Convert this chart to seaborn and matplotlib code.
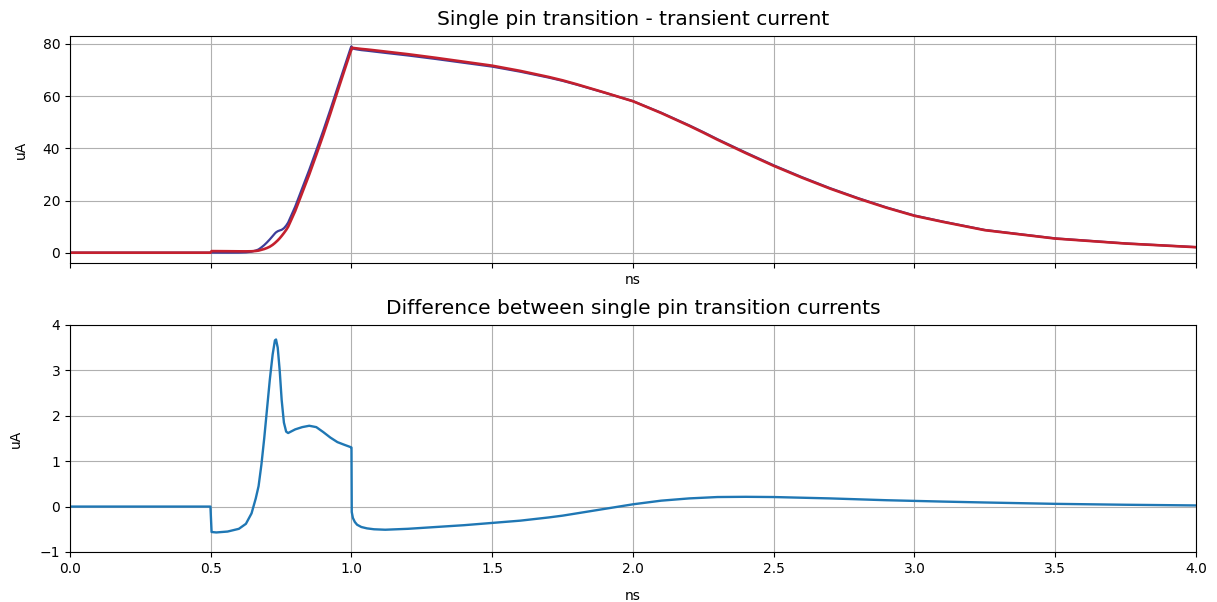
import numpy as np
import matplotlib
matplotlib.use("Agg")
import matplotlib.pyplot as plt
import seaborn as sns

# Time base in ns (denser around the switching edges)
time_ns = [
    0.0, 0.499, 0.503, 0.52, 0.56, 0.60, 0.625, 0.645, 0.66, 0.67,
    0.68, 0.69, 0.70, 0.71, 0.72, 0.728, 0.732, 0.738, 0.745, 0.752,
    0.76, 0.768, 0.775, 0.80, 0.825, 0.85, 0.875, 0.90, 0.925, 0.95,
    0.975, 0.997, 1.0, 1.001, 1.005, 1.012, 1.02, 1.035, 1.055, 1.08,
    1.12, 1.2, 1.25, 1.3, 1.4, 1.5, 1.6, 1.7, 1.75, 1.8, 1.9, 2.0,
    2.1, 2.2, 2.25, 2.3, 2.4, 2.5, 2.6, 2.7, 2.8, 2.9, 3.0,
    3.1, 3.25, 3.5, 3.75, 4.0,
]

# Reference transient current (uA)
current_ref = [
    0.1, 0.1, 0.7, 0.69, 0.66, 0.62, 0.61, 0.64, 0.75, 0.9,
    1.2, 1.5, 1.9, 2.4, 3.1, 3.8, 4.2, 4.8, 5.6, 6.5,
    7.6, 8.8, 10.0, 16.0, 23.0, 30.0, 37.5, 45.2, 53.3, 61.6,
    69.8, 77.0, 77.7, 78.5, 78.4, 78.3, 78.2, 78.0, 77.8, 77.5,
    77.0, 76.0, 75.3, 74.6, 73.1, 71.6, 69.6, 67.3, 66.0, 64.5, 61.3, 58.0,
    53.5, 48.6, 46.0, 43.3, 38.2, 33.3, 28.8, 24.6, 20.8, 17.3, 14.2,
    11.9, 8.7, 5.5, 3.6, 2.2,
]

# Difference between the two transition currents (uA)
current_diff = [
    0.0, 0.0, -0.56, -0.57, -0.55, -0.49, -0.38, -0.15, 0.18, 0.45,
    0.92, 1.5, 2.15, 2.8, 3.35, 3.66, 3.68, 3.5, 3.0, 2.35,
    1.85, 1.65, 1.62, 1.70, 1.75, 1.78, 1.75, 1.64, 1.52, 1.42,
    1.36, 1.31, 1.30, -0.12, -0.25, -0.34, -0.40, -0.45, -0.48, -0.50,
    -0.51, -0.49, -0.47, -0.45, -0.41, -0.36, -0.31, -0.24, -0.20, -0.15, -0.05, 0.05,
    0.13, 0.18, 0.195, 0.21, 0.215, 0.21, 0.195, 0.18, 0.16, 0.14, 0.125,
    0.11, 0.09, 0.06, 0.04, 0.025,
]

t = np.array(time_ns)
i_ref = np.array(current_ref)
i_diff = np.array(current_diff)
i_meas = i_ref + i_diff

fig, (ax1, ax2) = plt.subplots(2, 1, sharex=True, figsize=(12.17, 6.02), dpi=100)
fig.subplots_adjust(left=0.0575, right=0.9827, top=0.9402, bottom=0.0831, hspace=0.273)

sns.lineplot(x=t, y=i_meas, ax=ax1, color="#3d3d9a", linewidth=1.6,
             sort=False, estimator=None)
sns.lineplot(x=t, y=i_ref, ax=ax1, color="#c4202e", linewidth=1.9,
             sort=False, estimator=None)
ax1.set_title("Single pin transition - transient current", fontsize=14.5, pad=8)
ax1.set_xlabel("ns")
ax1.xaxis.label.set_visible(True)
ax1.set_ylabel("uA", labelpad=10.5)
ax1.grid(True)

sns.lineplot(x=t, y=i_diff, ax=ax2, color="#1f77b4", linewidth=1.7,
             sort=False, estimator=None)
ax2.set_title("Difference between single pin transition currents", fontsize=14.5, pad=8)
ax2.set_xlabel("ns", labelpad=9.5)
ax2.set_ylabel("uA", labelpad=12)
ax2.set_xlim(0, 4)
ax2.set_ylim(-1, 4)
ax2.grid(True)

fig.savefig("out.png", dpi=100)
